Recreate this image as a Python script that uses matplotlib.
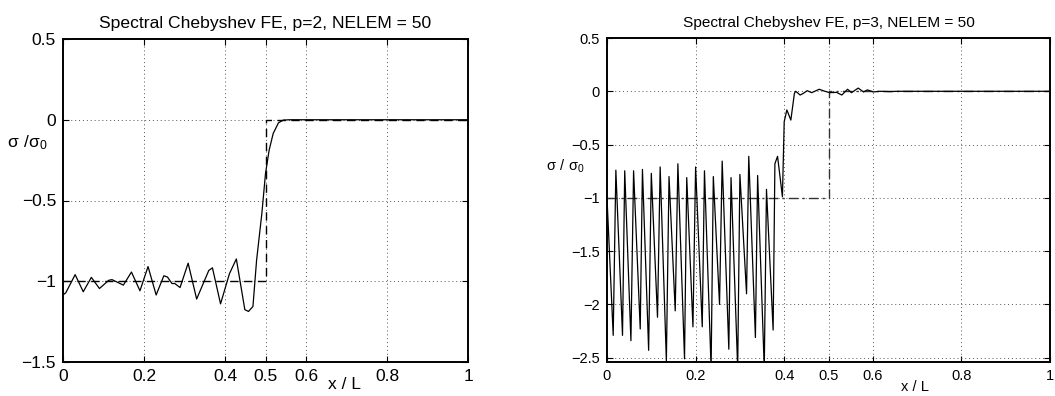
#!/usr/bin/env python3
"""Spectral Chebyshev FE stress profiles, p=2 and p=3 (NELEM = 50)."""

import matplotlib

matplotlib.use("Agg")
import matplotlib.pyplot as plt

plt.rcParams["font.family"] = ["Liberation Sans", "DejaVu Sans"]

# p=2 numerical solution
x_p2 = [0.0, 0.007, 0.030, 0.050, 0.070, 0.090, 0.113, 0.121, 0.149, 0.169,
        0.190, 0.210, 0.230, 0.249, 0.258, 0.269, 0.276, 0.289, 0.309, 0.330,
        0.360, 0.369, 0.389, 0.411, 0.428, 0.449, 0.458, 0.469, 0.478, 0.491,
        0.500, 0.509, 0.519, 0.532, 0.544, 0.560, 1.0]
s_p2 = [-1.085, -1.071, -0.959, -1.065, -0.976, -1.045, -0.994, -0.990, -1.024, -0.943,
        -1.059, -0.909, -1.085, -0.966, -0.974, -1.014, -1.014, -1.039, -0.888, -1.110,
        -0.933, -0.917, -1.140, -0.953, -0.862, -1.176, -1.187, -1.156, -0.870, -0.580,
        -0.333, -0.188, -0.085, -0.019, -0.002, 0.0, 0.0]

# p=3 numerical solution
x_p3 = [0.0, 0.014, 0.020, 0.035, 0.040, 0.054, 0.060, 0.075, 0.080, 0.094,
        0.100, 0.114, 0.120, 0.134, 0.140, 0.154, 0.160, 0.175, 0.180, 0.194,
        0.200, 0.215, 0.220, 0.235, 0.240, 0.254, 0.260, 0.275, 0.280, 0.295,
        0.300, 0.315, 0.320, 0.335, 0.340, 0.355, 0.360, 0.375, 0.379, 0.385,
        0.396, 0.400, 0.406, 0.415, 0.423, 0.426, 0.436, 0.443, 0.452, 0.462,
        0.479, 0.492, 0.503, 0.518, 0.530, 0.543, 0.552, 0.567, 0.579, 0.588,
        0.601, 0.616, 0.639, 0.654, 1.0]
s_p3 = [-1.0, -2.29, -0.74, -2.29, -0.746, -2.34, -0.746, -2.23, -0.733, -2.43,
        -0.77, -2.12, -0.71, -2.53, -0.80, -2.06, -0.68, -2.51, -0.81, -2.21,
        -0.71, -2.21, -0.746, -2.60, -0.80, -2.00, -0.655, -2.42, -0.81, -2.60,
        -0.78, -1.90, -0.61, -2.31, -0.79, -2.60, -0.92, -2.24, -0.68, -0.61,
        -0.99, -0.285, -0.175, -0.27, -0.02, 0.0, -0.035, -0.02, 0.006, -0.013,
        0.019, 0.0, -0.013, -0.01, -0.035, 0.019, -0.013, 0.03, -0.006, 0.013,
        -0.006, 0.0, -0.003, 0.0, 0.0]

# exact step solutions
x_exact = [0.0, 0.5, 0.5, 1.0]
s_exact = [-1.0, -1.0, 0.0, 0.0]

xticks = [0, 0.2, 0.4, 0.5, 0.6, 0.8, 1]
xticklabels = ["0", "0.2", "0.4", "0.5", "0.6", "0.8", "1"]


def style(ax, fs):
    ax.set_xlim(0, 1)
    ax.set_xticks(xticks)
    ax.set_xticklabels(xticklabels)
    ax.grid(True, linestyle=(0, (1, 3)), color="#555555", linewidth=0.7)
    ax.tick_params(direction="in", top=True, right=True, labelsize=fs, length=4, pad=5)
    for sp in ax.spines.values():
        sp.set_linewidth(1.4)


fig = plt.figure(figsize=(10.55, 3.96), dpi=100)

ax1 = fig.add_axes([63 / 1055, 1 - 362 / 396, 405 / 1055, 323 / 396])
ax1.plot(x_exact, s_exact, color="black", linestyle=(0, (6, 4)), linewidth=1.0)
ax1.plot(x_p2, s_p2, color="black", linewidth=0.9)
ax1.set_ylim(-1.5, 0.5)
ax1.set_yticks([-1.5, -1, -0.5, 0, 0.5])
ax1.set_yticklabels(["\u22121.5", "\u22121", "\u22120.5", "0", "0.5"])
style(ax1, 12.5)
ax1.set_title("Spectral Chebyshev FE, p=2, NELEM = 50", fontsize=12.6, pad=8)
ax1.set_xlabel("x / L", fontsize=12.5)
ax1.xaxis.set_label_coords(0.696, -0.045)
ax1.set_ylabel(r"$\mathregular{\sigma\ /\sigma_0}$", fontsize=12.5, rotation=0)
ax1.yaxis.set_label_coords(-0.088, 0.65)

ax2 = fig.add_axes([607 / 1055, 1 - 362 / 396, 443 / 1055, 324 / 396])
ax2.plot(x_exact, s_exact, color="#333333", linestyle=(0, (7, 3, 1.5, 3)), linewidth=1.0)
ax2.plot(x_p3, s_p3, color="black", linewidth=0.9)
ax2.set_ylim(-2.54, 0.5)
ax2.set_yticks([-2.5, -2, -1.5, -1, -0.5, 0, 0.5])
ax2.set_yticklabels(["\u22122.5", "\u22122", "\u22121.5", "\u22121", "\u22120.5", "0", "0.5"])
style(ax2, 10.5)
ax2.set_title("Spectral Chebyshev FE, p=3, NELEM = 50", fontsize=11.1, pad=8)
ax2.set_xlabel("x / L", fontsize=10.5)
ax2.xaxis.set_label_coords(0.695, -0.055)
ax2.set_ylabel(r"$\mathregular{\sigma\ /\ \sigma_0}$", fontsize=10.5, rotation=0)
ax2.yaxis.set_label_coords(-0.093, 0.577)

fig.savefig("out.png", dpi=100)
